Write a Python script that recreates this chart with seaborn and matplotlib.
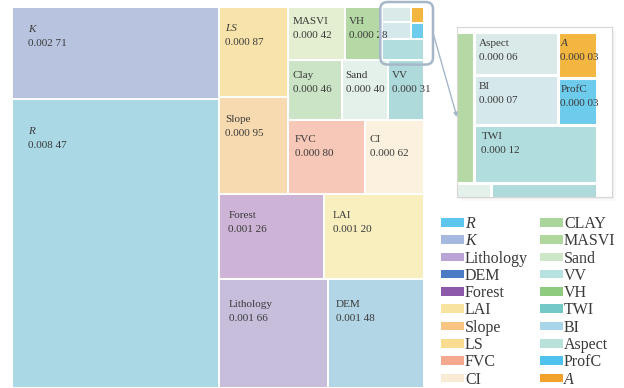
import matplotlib
matplotlib.use("Agg")
import matplotlib.pyplot as plt
import matplotlib.transforms as mtransforms
from matplotlib.patches import Rectangle, FancyBboxPatch, Patch, ConnectionPatch
import seaborn as sns

# data
names = ['R', 'K', 'Lithology', 'DEM', 'Forest', 'LAI', 'Slope', 'LS', 'FVC', 'CI',
         'Clay', 'MASVI', 'Sand', 'VV', 'VH', 'TWI', 'BI', 'Aspect', 'ProfC', 'A']
values = [0.00847, 0.00271, 0.00166, 0.00148, 0.00126, 0.00120, 0.00095, 0.00087, 0.00080, 0.00062,
          0.00046, 0.00042, 0.00040, 0.00031, 0.00028, 0.00012, 0.00007, 0.00006, 0.00003, 0.00003]
legend_labels = ['R', 'K', 'Lithology', 'DEM', 'Forest', 'LAI', 'Slope', 'LS', 'FVC', 'CI',
                 'CLAY', 'MASVI', 'Sand', 'VV', 'VH', 'TWI', 'BI', 'Aspect', 'ProfC', 'A']
small_names = ['Aspect', 'A', 'BI', 'ProfC', 'TWI']

tile_colors = ['#AAD8E5', '#B8C4DF', '#C7BEDC', '#B3D6E7', '#CDB3D6', '#F8EEBE', '#F8DAB0', '#F8E4AB',
               '#F7C8B8', '#FCF1DF', '#CCE4C6', '#E4EED0', '#E4F0EA', '#AEDADB', '#B4D9A4', '#B2DDDE',
               '#D5E8EC', '#D9EAE9', '#6DCBEB', '#F3B640']
legend_colors = ['#5CC6EC', '#A5B8E0', '#BBA5D6', '#4A7BC4', '#8C5AA8', '#F8E3A0', '#F8C482', '#F9DC8F',
                 '#F4A98F', '#F9EAD3', '#AAD69B', '#B0D89C', '#CEE7C9', '#B5E1DE', '#8FCB7E', '#74C9C6',
                 '#A8D5E8', '#B8E1DA', '#4EC1EC', '#F2A22A']
italic_tile = {'R', 'K', 'LS', 'A'}
italic_legend = {'R', 'K', 'A'}

# how the tiles are nested: 'h' = side by side, 'v' = stacked
small = ('v', [('h', [('v', ['Aspect', 'BI']), ('v', ['A', 'ProfC'])]), 'TWI'])
top_right = ('v', [('v', [('h', ['MASVI', 'VH', small]), ('h', ['Clay', 'Sand', 'VV'])]),
                   ('h', ['FVC', 'CI'])])
upper = ('h', [('v', ['LS', 'Slope']), top_right])
lower = ('v', [('h', ['Forest', 'LAI']), ('h', ['Lithology', 'DEM'])])
tree = ('h', [('v', ['K', 'R']), ('v', [upper, lower])])

val = dict(zip(names, values))
col = dict(zip(names, tile_colors))


def total(node):
    if isinstance(node, str):
        return val[node]
    return sum(total(c) for c in node[1])


rects = {}


def place(node, x, y, w, h):
    if isinstance(node, str):
        rects[node] = (x, y, w, h)
        return
    d, kids = node
    s = total(node)
    for k in kids:
        f = total(k) / s
        if d == 'h':
            place(k, x, y, w * f, h)
            x += w * f
        else:
            place(k, x, y, w, h * f)
            y += h * f


place(tree, 0, 0, 1, 1)
xs = [rects[n][0] for n in small_names] + [rects[n][0] + rects[n][2] for n in small_names]
ys = [rects[n][1] for n in small_names] + [rects[n][1] + rects[n][3] for n in small_names]
sx, sy = min(xs), min(ys)
sw, sh = max(xs) - sx, max(ys) - sy


def fmt(v):
    s = f"{v:.5f}"
    return s[:5] + ' ' + s[5:]


sns.set_theme(style='white')
plt.rcParams['font.family'] = ['Liberation Serif', 'DejaVu Serif']
txt_c = '#3a3a3a'

W, H = 624, 388
fig = plt.figure(figsize=(W / 100, H / 100), dpi=100)
fig.patch.set_facecolor('white')

ax = fig.add_axes([12 / W, 0, 412 / W, 381 / H])
ax.set_xlim(0, 1)
ax.set_ylim(1, 0)
ax.axis('off')
apx, apy = 412, 381

for n in names:
    x, y, w, h = rects[n]
    ax.add_patch(Rectangle((x, y), w, h, facecolor=col[n], edgecolor='white', lw=1.4))
    if n in small_names:
        continue
    wp, hp = w * apx, h * apy
    dx = min(max(0.085 * wp, 4), 16)
    dy = min(max(0.19 * hp, 6), 28)
    tr = mtransforms.offset_copy(ax.transData, fig, x=dx, y=-dy, units='dots')
    ax.text(x, y, n, transform=tr, va='top', ha='left', fontsize=8, color=txt_c,
            style='italic' if n in italic_tile else 'normal')
    tr2 = mtransforms.offset_copy(ax.transData, fig, x=dx, y=-dy - 14, units='dots')
    ax.text(x, y, fmt(val[n]), transform=tr2, va='top', ha='left', fontsize=8, color=txt_c)

# marker round the small tiles
ind = FancyBboxPatch((sx - 2 / apx, sy - 5 / apy), sw + 11 / apx, sh + 10 / apy,
                     boxstyle='round,pad=0,rounding_size=0.018', facecolor='none',
                     edgecolor='#A6B7CA', lw=1.8, clip_on=False, zorder=5)
ax.add_patch(ind)

# zoomed inset
ax_in = fig.add_axes([457 / W, 1 - 197 / H, 155 / W, 170 / H])
ax_in.set_zorder(5)
ipx, ipy = 123, 151
ax_in.set_xlim(sx - sw * 17 / ipx, sx + sw + sw * 15 / ipx)
ax_in.set_ylim(sy + sh + sh * 14 / ipy, sy - sh * 5 / ipy)
ax_in.set_xticks([])
ax_in.set_yticks([])
ax_in.set_facecolor('white')
for sp in ax_in.spines.values():
    sp.set_color('#D6D6D6')
    sp.set_linewidth(0.8)
for n in names:
    x, y, w, h = rects[n]
    ax_in.add_patch(Rectangle((x, y), w, h, facecolor=col[n], edgecolor='white', lw=2.2))
for n in small_names:
    x, y, w, h = rects[n]
    wp = w / sw * ipx
    dx = max(0.06 * wp, 1)
    tr = mtransforms.offset_copy(ax_in.transData, fig, x=dx, y=-7, units='dots')
    ax_in.text(x, y, n, transform=tr, va='top', ha='left', fontsize=8, color=txt_c,
               style='italic' if n in italic_tile else 'normal')
    tr2 = mtransforms.offset_copy(ax_in.transData, fig, x=dx, y=-21, units='dots')
    ax_in.text(x, y, fmt(val[n]), transform=tr2, va='top', ha='left', fontsize=8, color=txt_c)

# soft shadow under the inset
for i, a in enumerate([0.10, 0.07, 0.04]):
    o = (i + 1) * 1.2
    fig.add_artist(Rectangle(((457 + o) / W, (H - 197 - o) / H), 155 / W, 170 / H,
                             transform=fig.transFigure, facecolor='#7a7a7a', alpha=a,
                             edgecolor='none', zorder=4))

arrow = ConnectionPatch(xyA=(sx + sw + 9 / apx, sy + 0.49 * sh), coordsA=ax.transData,
                        xyB=(0, 0.47), coordsB=ax_in.transAxes, arrowstyle='-|>',
                        mutation_scale=6, color='#A6B7CA', lw=1.0, zorder=6)
fig.add_artist(arrow)

# legend
handles = [Patch(facecolor=c, edgecolor='none') for c in legend_colors]
leg = fig.legend(handles, legend_labels, ncol=2, loc='upper left',
                 bbox_to_anchor=(441 / W, 1 - 216 / H), frameon=False, fontsize=11.5,
                 borderpad=0, borderaxespad=0, labelspacing=0.08, handlelength=1.45,
                 handleheight=0.45, handletextpad=0.05, columnspacing=0.75)
for t in leg.get_texts():
    t.set_color(txt_c)
    if t.get_text() in italic_legend:
        t.set_fontstyle('italic')

fig.savefig('out.png', dpi=100, facecolor='white')
